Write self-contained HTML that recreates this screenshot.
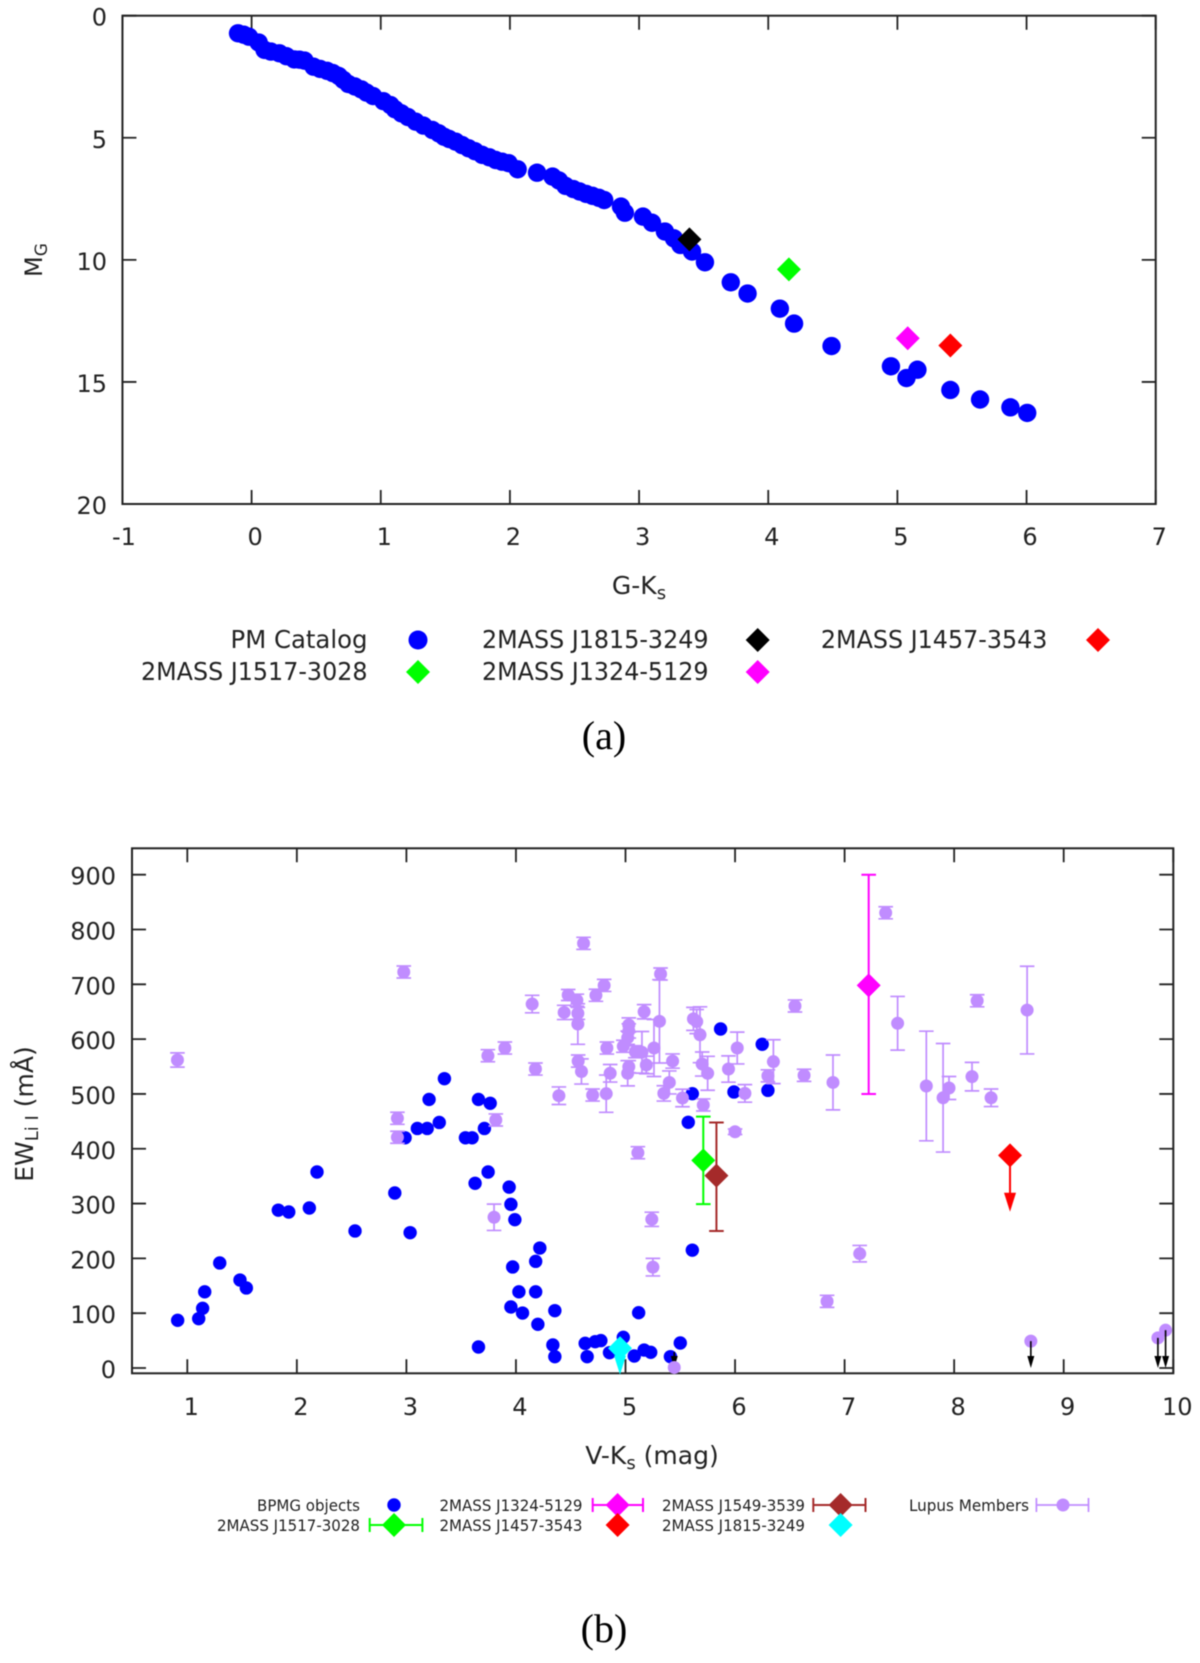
<!DOCTYPE html>
<html lang="en">
<head>
<meta charset="utf-8">
<title>Color-magnitude and lithium equivalent width charts</title>
<style>
html,body{margin:0;padding:0;background:#fff;width:1200px;height:1663px;overflow:hidden}
svg{display:block;filter:blur(0.4px)}
text{font-family:"DejaVu Sans","Liberation Sans",sans-serif;fill:#222}
.cap{font-family:"Liberation Serif",serif;font-size:40px;fill:#000}
.t{font-size:24px}
.tl{font-size:25px}
.la{font-size:25px;text-anchor:end}
.lb{font-size:16px;text-anchor:end}
</style>
</head>
<body>
<svg id="fig" xmlns="http://www.w3.org/2000/svg" width="1200" height="1663" viewBox="0 0 1200 1663">
  <g id="chartA"></g>
  <text class="t" transform="translate(42,260) rotate(-90)" text-anchor="middle">M<tspan font-size="17" dy="5">G</tspan></text>
  <text class="tl" x="639" y="594" text-anchor="middle">G-K<tspan font-size="18" dy="5">s</tspan></text>

  <g>
    <text class="la" x="367.500" y="648" textLength="137" lengthAdjust="spacingAndGlyphs">PM Catalog</text>
    <circle cx="418" cy="640" r="9.5" fill="#0000ff"/>
    <text class="la" x="367.500" y="680" textLength="226.500" lengthAdjust="spacingAndGlyphs">2MASS J1517-3028</text>
    <path d="M418 660l12 12-12 12-12-12z" fill="#00ff00"/>
    <text class="la" x="708.500" y="648" textLength="226.500" lengthAdjust="spacingAndGlyphs">2MASS J1815-3249</text>
    <path d="M757.700 628l12 12-12 12-12-12z" fill="#000"/>
    <text class="la" x="708.500" y="680" textLength="226.500" lengthAdjust="spacingAndGlyphs">2MASS J1324-5129</text>
    <path d="M757.700 660l12 12-12 12-12-12z" fill="#ff00ff"/>
    <text class="la" x="1047.400" y="648" textLength="226.500" lengthAdjust="spacingAndGlyphs">2MASS J1457-3543</text>
    <path d="M1098 628l12 12-12 12-12-12z" fill="#ff0000"/>
  </g>
  <text class="cap" x="604" y="749" text-anchor="middle">(a)</text>

  <g id="chartB"></g>
  <text class="tl" transform="translate(33,1114) rotate(-90)" text-anchor="middle">EW<tspan font-size="18" dy="5">Li I</tspan><tspan dy="-5"> (mÅ)</tspan></text>
  <text class="tl" x="652" y="1464" text-anchor="middle">V-K<tspan font-size="18" dy="5">s</tspan><tspan dy="-5"> (mag)</tspan></text>

  <g>
    <text class="lb" x="360" y="1511" textLength="103" lengthAdjust="spacingAndGlyphs">BPMG objects</text>
    <circle cx="394" cy="1505" r="6.7" fill="#0000ff"/>
    <text class="lb" x="360" y="1531" textLength="143" lengthAdjust="spacingAndGlyphs">2MASS J1517-3028</text>
    <path d="M369.700 1525H422.400M369.700 1518v14M422.400 1518v14" stroke="#00ff00" stroke-width="2" fill="none"/>
    <path d="M394 1513l12 12-12 12-12-12z" fill="#00ff00"/>
    <text class="lb" x="582.500" y="1511" textLength="143" lengthAdjust="spacingAndGlyphs">2MASS J1324-5129</text>
    <path d="M592.700 1505H643M592.700 1498v14M643 1498v14" stroke="#ff00ff" stroke-width="2" fill="none"/>
    <path d="M617.600 1493l12 12-12 12-12-12z" fill="#ff00ff"/>
    <text class="lb" x="582.500" y="1531" textLength="143" lengthAdjust="spacingAndGlyphs">2MASS J1457-3543</text>
    <path d="M617.600 1513l12 12-12 12-12-12z" fill="#ff0000"/>
    <text class="lb" x="805" y="1511" textLength="143" lengthAdjust="spacingAndGlyphs">2MASS J1549-3539</text>
    <path d="M813.300 1505H865.500M813.300 1498v14M865.500 1498v14" stroke="#a52a2a" stroke-width="2" fill="none"/>
    <path d="M840.600 1493l12 12-12 12-12-12z" fill="#a52a2a"/>
    <text class="lb" x="805" y="1531" textLength="143" lengthAdjust="spacingAndGlyphs">2MASS J1815-3249</text>
    <path d="M840.600 1513l12 12-12 12-12-12z" fill="#00ffff"/>
    <text class="lb" x="1029" y="1511" textLength="120" lengthAdjust="spacingAndGlyphs">Lupus Members</text>
    <path d="M1036.400 1505H1088.500M1036.400 1498v14M1088.500 1498v14" stroke="#c08cff" stroke-width="1.700" fill="none"/>
    <circle cx="1063" cy="1505" r="6.500" fill="#c08cff"/>
  </g>
  <text class="cap" x="604" y="1642" text-anchor="middle">(b)</text>
</svg>

<script>
// ---------- Chart (a) data ----------
const aXTicks = [-1,0,1,2,3,4,5,6,7];
const aYTicks = [0,5,10,15,20];
const pmGK = [-0.105,-0.06,-0.02,0.055,0.10,0.15,0.215,0.27,0.33,0.37,0.41,0.48,0.53,0.585,0.63,0.675,0.71,0.75,0.80,0.85,0.89,0.94,1.02,1.075,1.11,1.16,1.21,1.27,1.33,1.40,1.45,1.49,1.53,1.58,1.63,1.68,1.73,1.785,1.84,1.89,1.94,1.99,2.06,2.21,2.33,2.38,2.43,2.49,2.54,2.59,2.64,2.69,2.73,2.86,2.89,3.03,3.10,3.20,3.27,3.32,3.41,3.51,3.71,3.84,4.09,4.20,4.49,4.95,5.07,5.155,5.41,5.64,5.875,6.005];
const pmMG = [0.72,0.78,0.86,1.1,1.4,1.47,1.54,1.66,1.79,1.8,1.84,2.09,2.18,2.26,2.35,2.47,2.63,2.8,2.9,3.02,3.15,3.29,3.5,3.66,3.83,4.0,4.15,4.34,4.5,4.68,4.82,4.96,5.05,5.16,5.3,5.43,5.55,5.7,5.8,5.91,5.98,6.04,6.29,6.43,6.59,6.75,6.97,7.1,7.2,7.3,7.38,7.46,7.55,7.82,8.07,8.23,8.48,8.84,9.12,9.39,9.66,10.1,10.92,11.38,12.0,12.61,13.53,14.36,14.84,14.5,15.33,15.72,16.04,16.27];
const aTargetGK = [4.16,5.08,5.41,3.39];
const aTargetMG = [10.39,13.21,13.51,9.16];
const aTargetColors = ['#00ff00','#ff00ff','#ff0000','#000000'];

// ---------- Chart (b) data ----------
const bXTicks = [1,2,3,4,5,6,7,8,9,10];
const bYTicks = [0,100,200,300,400,500,600,700,800,900];
const bpmgVK = [0.912,1.104,1.14,1.159,1.296,1.481,1.539,1.831,1.926,2.114,2.184,2.531,2.894,3.034,2.988,3.1,3.19,3.3,3.207,3.347,3.539,3.6,3.712,3.658,3.765,3.746,3.627,3.938,3.954,3.99,4.218,4.18,3.97,4.027,4.18,3.954,4.06,4.355,4.2,3.658,4.337,4.355,4.632,4.723,4.775,4.65,4.854,4.98,5.08,5.12,5.17,5.23,5.41,5.5,5.61,5.868,6.248,5.61,5.99,6.30,5.573];
const bpmgEW = [87,90,108.9,139,191.6,160.5,146,288,284.6,291.9,357.6,250,319.3,246.9,420,437,437,448,490,527.9,420,420,437,490,483,357.6,337,330,298.6,270.6,218.9,194.6,184.3,139,139,111.3,100.3,104.6,79.7,38.3,42,20.7,45,48,50,20.7,28,56,21.9,100.9,32.8,28.6,20.7,45.6,215,618.5,590.6,500.5,503.6,506.6,448.3];
const lupusVK = [0.91,2.918,2.918,2.976,3.744,3.8,3.816,3.899,4.148,4.178,4.392,4.44,4.477,4.556,4.565,4.565,4.568,4.598,4.617,4.70,4.73,4.805,4.824,4.83,4.86,4.98,5.02,5.02,5.03,5.03,5.03,5.09,5.113,5.15,5.17,5.19,5.24,5.25,5.26,5.31,5.32,5.35,5.40,5.43,5.52,5.62,5.65,5.68,5.70,5.71,5.75,5.94,6.0,6.02,6.09,6.3,6.35,6.547,6.63,6.84,6.894,7.138,7.375,7.484,7.746,7.899,7.953,8.163,8.21,8.337,8.666];
const lupusEW = [562,455.6,421,722.5,569.8,275,452.5,583.8,664,545.5,496.8,648.7,680.5,671,647,627.6,560,541,774.8,498,680,698,500.5,583.8,537.7,587,602.6,537.7,625.8,615,549.7,577,392.8,576,650,552.9,271.3,184,583.8,632.5,718.8,501,521,560,492.6,637,632,608,554.6,479.9,537.7,545.5,431,583.8,501,533,558.9,660.5,534,121.6,521,208.6,830.5,628.9,514.5,493,510.9,531.6,670,493,653];
const lupusErr = [13,11,11,11,11,24,11,11,16,11,16,13,10,11,11,37,11,23,11,11,11,11,34,11,16,11,12,23,13,13,11,11,11,38,13,16,13,16,52,76,11,14,21,13,16,21,22,51,22,11,31,24,5,29,16,11,40,11,11,11,50,15,11,49,100,99,21,26,11,16,80];
const lupusLimitVK = [5.445,8.7,9.86,9.93];
const lupusLimitEW = [1,49,55,69];
const targetNames = ['j1517-3028','j1324-5129','j1549-3539'];
const targetVK = [5.71,7.22,5.83];
const targetEW = [378.9,698,350.9];
const targetErrUp = [79.7,202,97.1];
const targetErrDown = [79.9,198,100.9];
const targetColors = ['#00ff00','#ff00ff','#a52a2a'];
const j1457VK = [8.51];
const j1457EW = [388];
const j1457Limit = [285];
const j1815VK = [4.95];
const j1815EW = [36];
const j1815Limit = [-12];

// ---------- Axis functions ----------
const xA = v => 251.6 + v * 129.16;
const yA = v => 15.7 + v * 24.415;
const xB = v => 187.3 + (v - 1) * 109.55;
const yB = v => 1368 - v * 0.5481;

const NS = 'http://www.w3.org/2000/svg';
function make(tag, parent, attrs) {
  const e = document.createElementNS(NS, tag);
  for (const k in attrs) e.setAttribute(k, attrs[k]);
  parent.appendChild(e);
  return e;
}
function diamondPath(cx, cy, r) {
  return 'M' + cx + ' ' + (cy - r) + 'l' + r + ' ' + r + 'l' + (-r) + ' ' + r + 'l' + (-r) + ' ' + (-r) + 'z';
}
function frame(parent, left, top, right, bottom) {
  const f = make('rect', parent, {x:left, y:top, width:right-left, height:bottom-top, fill:'none', stroke:'#222', 'stroke-width':2});
  
  
}
function xTick(parent, x, top, bottom, label, baseline, dx) {
  const t = make('path', parent, {d:'M'+x+' '+top+'v14M'+x+' '+bottom+'v-14', stroke:'#222', 'stroke-width':1.8, fill:'none'});
  
  
  const l = make('text', parent, {x:x+dx, y:baseline, 'text-anchor':'middle', class:'t'});
  
  
  l.textContent = label;
}
function yTick(parent, y, left, right, label, textRight) {
  const t = make('path', parent, {d:'M'+left+' '+y+'h14M'+right+' '+y+'h-14', stroke:'#222', 'stroke-width':1.8, fill:'none'});
  
  
  const l = make('text', parent, {x:textRight, y:y+10, 'text-anchor':'end', class:'t'});
  
  
  l.textContent = label;
}
function errBar(parent, x, yTop, yBottom, color, width) {
  const b = make('path', parent, {d:'M'+x+' '+yTop+'V'+yBottom+'M'+(x-7.3)+' '+yTop+'h14.6M'+(x-7.3)+' '+yBottom+'h14.6', stroke:color, 'stroke-width':width, fill:'none'});
  
  
}
function limitArrow(parent, x, yStart, yTip, color, halfW, headH, width) {
  const s = make('path', parent, {d:'M'+x+' '+Math.min(yStart, yTip-headH-4)+'V'+(yTip-headH+1), stroke:color, 'stroke-width':width, fill:'none'});
  
  
  const h = make('path', parent, {d:'M'+x+' '+yTip+'L'+(x-halfW)+' '+(yTip-headH)+'H'+(x+halfW)+'z', fill:color});
  
  
}

// ---------- Draw chart (a) ----------
const gA = document.getElementById('chartA');
frame(gA, xA(-1), yA(0), xA(7), yA(20));
aXTicks.forEach(v => xTick(gA, xA(v), yA(0), yA(20), String(v), 545, v < 0 ? 1.5 : 3.5));
aYTicks.forEach(v => yTick(gA, yA(v), xA(-1), xA(7), String(v), 107));
pmGK.forEach((v, i) => {
  const c = make('circle', gA, {cx:xA(v), cy:yA(pmMG[i]), r:9.2, fill:'#0000ff'});
  
  
});
aTargetGK.forEach((v, i) => {
  const d = make('path', gA, {d:diamondPath(xA(v), yA(aTargetMG[i]), 12), fill:aTargetColors[i]});
  
  
});

// ---------- Draw chart (b) ----------
const gB = document.getElementById('chartB');
const bLeft = 132, bRight = 1173.3, bTop = 848.3, bBottom = 1373.3;
frame(gB, bLeft, bTop, bRight, bBottom);
bXTicks.forEach(v => xTick(gB, xB(v), bTop, bBottom, String(v), 1415, 4));
bYTicks.forEach(v => yTick(gB, yB(v), bLeft, bRight, String(v), 116));
bpmgVK.forEach((v, i) => {
  const c = make('circle', gB, {cx:xB(v), cy:yB(bpmgEW[i]), r:6.7, fill:'#0000ff'});
  
  
});
lupusVK.forEach((v, i) => {
  errBar(gB, xB(v), yB(lupusEW[i] + lupusErr[i]), yB(lupusEW[i] - lupusErr[i]), '#c08cff', 1.7);
  const c = make('circle', gB, {cx:xB(v), cy:yB(lupusEW[i]), r:6.5, fill:'#c08cff'});
  
  
});
lupusLimitVK.forEach((v, i) => {
  // The lowest limit's arrow sits behind its marker; the others are drawn over theirs.
  const behind = lupusLimitEW[i] < 10;
  if (behind) limitArrow(gB, xB(v), yB(lupusLimitEW[i]), yB(0), '#000000', 3.5, 12, 1.6);
  const c = make('circle', gB, {cx:xB(v), cy:yB(lupusLimitEW[i]), r:6.5, fill:'#c08cff'});
  
  
  if (!behind) limitArrow(gB, xB(v), yB(lupusLimitEW[i]), yB(0), '#000000', 3.5, 12, 1.6);
});
j1815VK.forEach((v, i) => {
  limitArrow(gB, xB(v), yB(j1815EW[i]), yB(j1815Limit[i]), '#00ffff', 6, 19, 2);
  const d = make('path', gB, {d:diamondPath(xB(v), yB(j1815EW[i]), 12), fill:'#00ffff'});
  
  
});
targetVK.forEach((v, i) => {
  errBar(gB, xB(v), yB(targetEW[i] + targetErrUp[i]), yB(targetEW[i] - targetErrDown[i]), targetColors[i], 2);
  const d = make('path', gB, {d:diamondPath(xB(v), yB(targetEW[i]), 12), fill:targetColors[i]});
  
  
});
j1457VK.forEach((v, i) => {
  limitArrow(gB, xB(v), yB(j1457EW[i]), yB(j1457Limit[i]), '#ff0000', 6, 19, 2);
  const d = make('path', gB, {d:diamondPath(xB(v), yB(j1457EW[i]), 12), fill:'#ff0000'});
  
  
});
</script>
</body>
</html>
